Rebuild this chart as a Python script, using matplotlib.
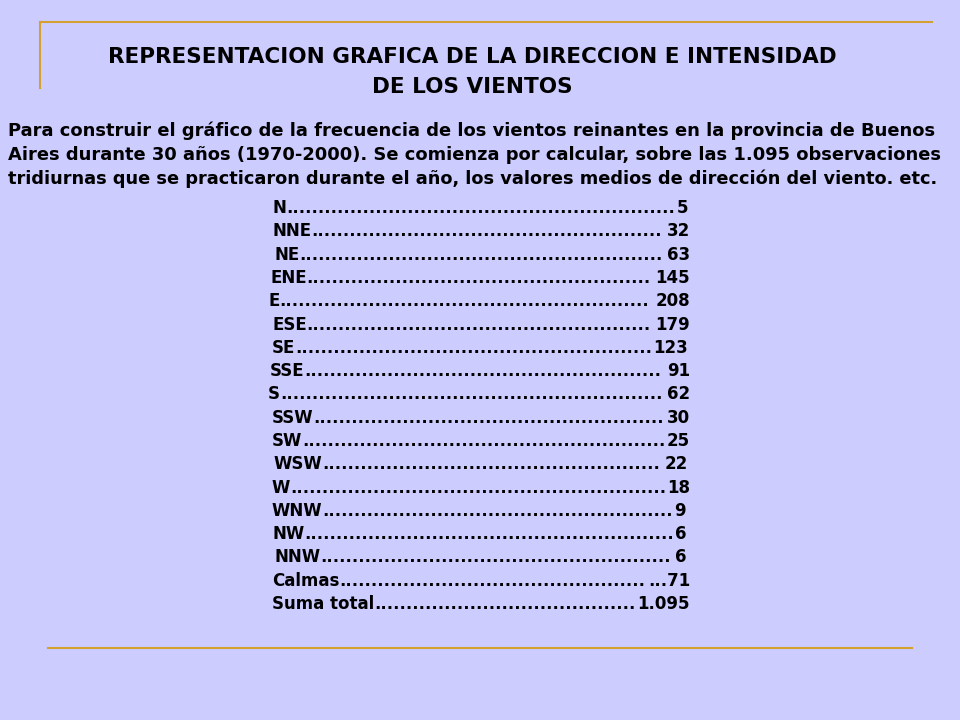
import matplotlib
matplotlib.use("Agg")
import matplotlib.pyplot as plt
from matplotlib.lines import Line2D

directions = ["N", "NNE", "NE", "ENE", "E", "ESE", "SE", "SSE", "S", "SSW", "SW",
              "WSW", "W", "WNW", "NW", "NNW", "Calmas", "Suma total"]
counts = ["5", "32", "63", "145", "208", "179", "123", "91", "62", "30", "25",
          "22", "18", "9", "6", "6", "...71", "1.095"]
label_x = [272, 272, 274, 270, 268, 272, 272, 270, 268, 272, 272, 274, 272, 272, 272, 274, 272, 272]
value_x = [688, 690, 690, 690, 690, 690, 688, 690, 690, 690, 690, 688, 690, 686, 686, 686, 690, 690]

W, H = 960, 720
plt.rcParams["font.family"] = "DejaVu Sans"
fig = plt.figure(figsize=(9.6, 7.2), dpi=100, facecolor="#CCCCFF")

def px(x, y):
    return x / W, 1 - y / H

# decorative lines
gold = "#D4A030"
fig.add_artist(Line2D([40 / W, 932 / W], [1 - 22 / H] * 2, color=gold, lw=1.5))
fig.add_artist(Line2D([40 / W] * 2, [1 - 22 / H, 1 - 88 / H], color=gold, lw=1.5))
fig.add_artist(Line2D([48 / W, 912 / W], [1 - 648 / H] * 2, color=gold, lw=1.5))

fig.text(*px(472, 57), "REPRESENTACION GRAFICA DE LA DIRECCION E INTENSIDAD",
         ha="center", va="center", fontsize=15.5, fontweight="bold")
fig.text(*px(472, 87), "DE LOS VIENTOS", ha="center", va="center", fontsize=15.5, fontweight="bold")

para = ["Para construir el gráfico de la frecuencia de los vientos reinantes en la provincia de Buenos",
        "Aires durante 30 años (1970-2000). Se comienza por calcular, sobre las 1.095 observaciones",
        "tridiurnas que se practicaron durante el año, los valores medios de dirección del viento. etc."]
fig.canvas.draw()
renderer = fig.canvas.get_renderer()
for i, line in enumerate(para):
    t = fig.text(*px(8, 131 + i * 24), line, ha="left", va="center", fontsize=12.5, fontweight="bold")
    # fit to reference line width
    w = t.get_window_extent(renderer).width
    t.set_fontsize(12.5 * 932 / w)

for i, (d, c) in enumerate(zip(directions, counts)):
    y = 208 + i * 23.3
    t1 = fig.text(*px(label_x[i], y), d, ha="left", va="center", fontsize=12, fontweight="bold")
    t2 = fig.text(*px(value_x[i], y), c, ha="right", va="center", fontsize=12, fontweight="bold")
    b1 = t1.get_window_extent(renderer)
    b2 = t2.get_window_extent(renderer)
    probe = fig.text(0, 0, ".", fontsize=12, fontweight="bold")
    dw = probe.get_window_extent(renderer).width
    probe.remove()
    n = int((b2.x0 - b1.x1) / dw)
    fig.text(b1.x1 / W, 1 - y / H, "." * n, ha="left", va="center", fontsize=12, fontweight="bold")

fig.savefig("out.png", dpi=100, facecolor=fig.get_facecolor())
